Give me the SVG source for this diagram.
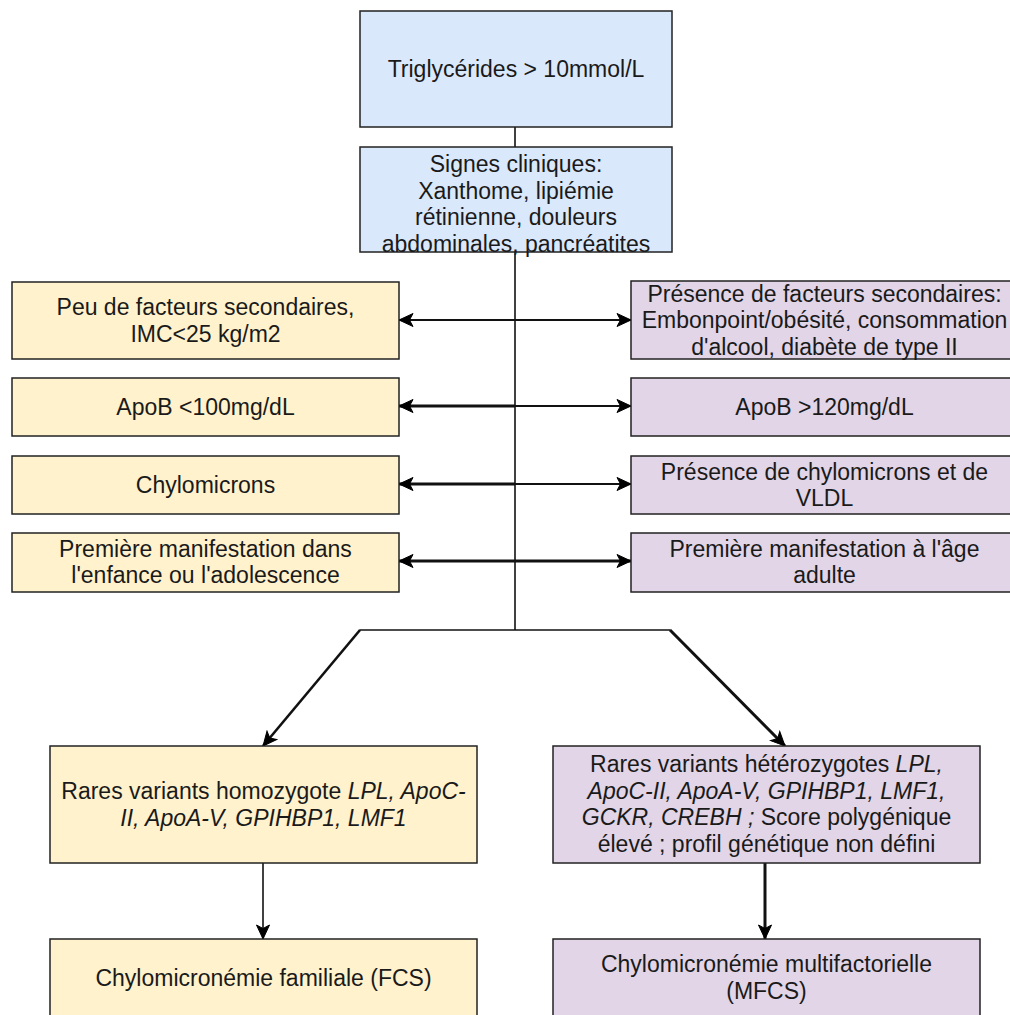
<svg xmlns="http://www.w3.org/2000/svg" width="1010" height="1015" viewBox="0 0 1010 1015">
<style>
.box{stroke:#222;stroke-width:1.5}
.blue{fill:#dae8fc}
.yel{fill:#fff2cc}
.pur{fill:#e1d5e7}
text{font-family:"Liberation Sans",Arial,sans-serif;font-size:23px;fill:#1a1a1a;text-anchor:middle}
.i{font-style:italic}
.ln{fill:none;stroke:#111;stroke-linecap:butt}
</style>
<defs>
<marker id="ah" markerUnits="userSpaceOnUse" markerWidth="16" markerHeight="15" viewBox="0 0 16 15" refX="15" refY="7.5" orient="auto">
<path d="M15 7.5 L1 1 L4.5 7.5 L1 14 Z" fill="#000" stroke="#000" stroke-width="1" stroke-linejoin="miter"/>
</marker>
</defs>
<rect width="1010" height="1015" fill="#fff"/>
<g id="connectors">
<line class="ln" x1="515" y1="127" x2="515" y2="147" stroke-width="1.6"/>
<line class="ln" x1="515" y1="252" x2="515" y2="630" stroke-width="1.6"/>
<line class="ln" x1="359.5" y1="630" x2="670.5" y2="630" stroke-width="1.6"/>
<line class="ln" x1="515" y1="320" x2="399" y2="320" stroke-width="1.8" marker-end="url(#ah)"/>
<line class="ln" x1="515" y1="320" x2="631" y2="320" stroke-width="1.8" marker-end="url(#ah)"/>
<line class="ln" x1="515" y1="406" x2="399" y2="406" stroke-width="3" marker-end="url(#ah)"/>
<line class="ln" x1="515" y1="406" x2="631" y2="406" stroke-width="1.8" marker-end="url(#ah)"/>
<line class="ln" x1="515" y1="484" x2="399" y2="484" stroke-width="3" marker-end="url(#ah)"/>
<line class="ln" x1="515" y1="484" x2="631" y2="484" stroke-width="1.8" marker-end="url(#ah)"/>
<line class="ln" x1="515" y1="561" x2="399" y2="561" stroke-width="2.8" marker-end="url(#ah)"/>
<line class="ln" x1="515" y1="561" x2="631" y2="561" stroke-width="2.8" marker-end="url(#ah)"/>
<line class="ln" x1="360" y1="630" x2="263" y2="746" stroke-width="2.6" marker-end="url(#ah)"/>
<line class="ln" x1="670" y1="630" x2="785" y2="746" stroke-width="3" marker-end="url(#ah)"/>
<line class="ln" x1="263" y1="863" x2="263" y2="939" stroke-width="1.6" marker-end="url(#ah)"/>
<line class="ln" x1="765" y1="863" x2="765" y2="939" stroke-width="3" marker-end="url(#ah)"/>
</g>
<g id="n-trig">
<rect class="box blue" x="360" y="11" width="312" height="116"/>
<text x="516" y="77">Triglycérides &gt; 10mmol/L</text>
</g>
<g id="n-signes">
<rect class="box blue" x="360" y="147" width="312" height="105"/>
<text x="516" y="172">Signes cliniques:</text>
<text x="516" y="198.7">Xanthome, lipiémie</text>
<text x="516" y="225.4">rétinienne, douleurs</text>
<text x="516" y="252">abdominales, pancréatites</text>
</g>
<g id="n-peu">
<rect class="box yel" x="12" y="282" width="387" height="77"/>
<text x="205.5" y="315">Peu de facteurs secondaires,</text>
<text x="205.5" y="341.7">IMC&lt;25 kg/m2</text>
</g>
<g id="n-apob-l">
<rect class="box yel" x="12" y="378" width="387" height="58"/>
<text x="205.5" y="415">ApoB &lt;100mg/dL</text>
</g>
<g id="n-chylo-l">
<rect class="box yel" x="12" y="456" width="387" height="58"/>
<text x="205.5" y="493">Chylomicrons</text>
</g>
<g id="n-prem-l">
<rect class="box yel" x="12" y="533" width="387" height="59"/>
<text x="205.5" y="556.5">Première manifestation dans</text>
<text x="205.5" y="583.2">l'enfance ou l'adolescence</text>
</g>
<g id="n-pres">
<rect class="box pur" x="631" y="281" width="387" height="78"/>
<text x="824.5" y="301.5">Présence de facteurs secondaires:</text>
<text x="824.5" y="328.2">Embonpoint/obésité, consommation</text>
<text x="824.5" y="354.9">d'alcool, diabète de type II</text>
</g>
<g id="n-apob-r">
<rect class="box pur" x="631" y="378" width="387" height="58"/>
<text x="824.5" y="415">ApoB &gt;120mg/dL</text>
</g>
<g id="n-chylo-r">
<rect class="box pur" x="631" y="456" width="387" height="58"/>
<text x="824.5" y="479.5">Présence de chylomicrons et de</text>
<text x="824.5" y="506.2">VLDL</text>
</g>
<g id="n-prem-r">
<rect class="box pur" x="631" y="533" width="387" height="59"/>
<text x="824.5" y="556.5">Première manifestation à l'âge</text>
<text x="824.5" y="583.2">adulte</text>
</g>
<g id="n-homo">
<rect class="box yel" x="50" y="746" width="427" height="117"/>
<text x="263.5" y="799">Rares variants homozygote <tspan class="i">LPL, ApoC-</tspan></text>
<text x="263.5" y="825.7" class="i">II, ApoA-V, GPIHBP1, LMF1</text>
</g>
<g id="n-hetero">
<rect class="box pur" x="553" y="746" width="427" height="117"/>
<text x="766.5" y="772">Rares variants hétérozygotes <tspan class="i">LPL,</tspan></text>
<text x="766.5" y="798.7" class="i">ApoC-II, ApoA-V, GPIHBP1, LMF1,</text>
<text x="766.5" y="825.4"><tspan class="i">GCKR, CREBH ;</tspan> Score polygénique</text>
<text x="766.5" y="852.1">élevé ; profil génétique non défini</text>
</g>
<g id="n-fcs">
<rect class="box yel" x="50" y="939" width="427" height="117"/>
<text x="263.5" y="986">Chylomicronémie familiale (FCS)</text>
</g>
<g id="n-mfcs">
<rect class="box pur" x="553" y="939" width="427" height="117"/>
<text x="766.5" y="972">Chylomicronémie multifactorielle</text>
<text x="766.5" y="998.7">(MFCS)</text>
</g>
</svg>
